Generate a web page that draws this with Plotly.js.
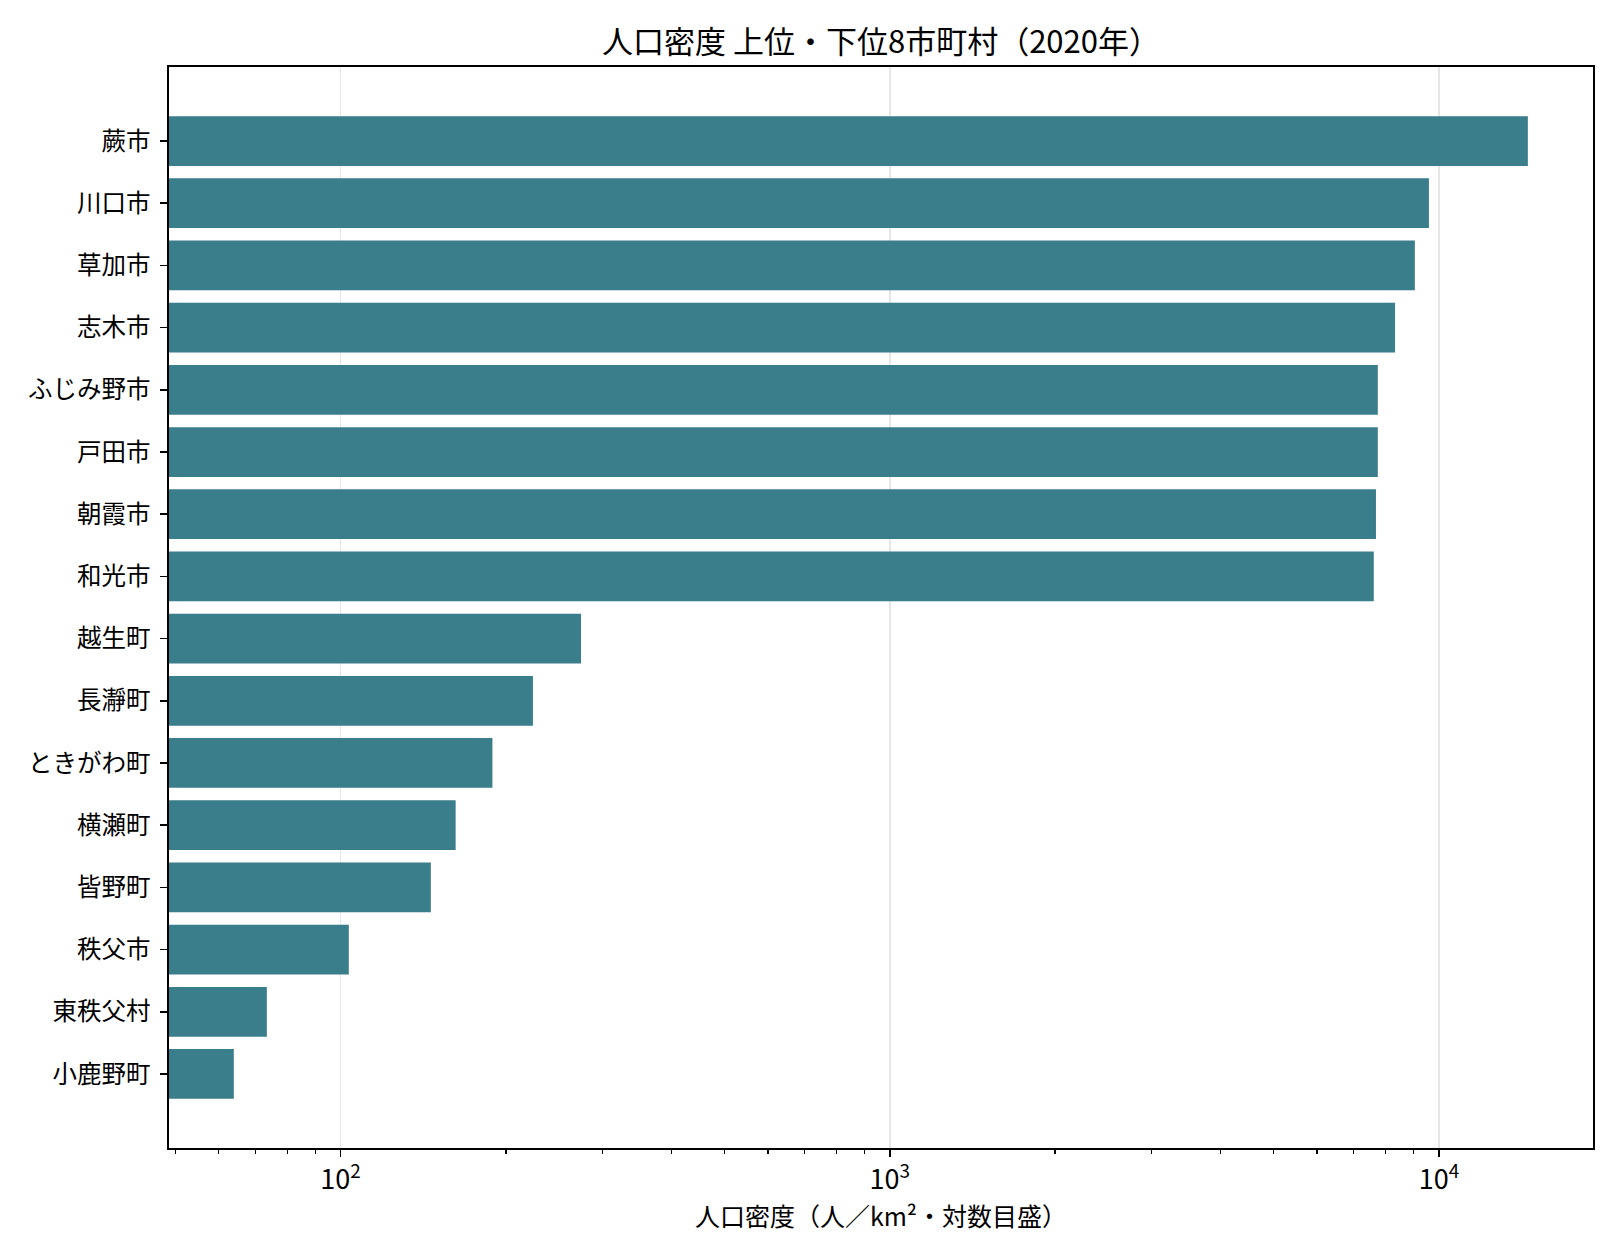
<!DOCTYPE html>
<html>
<head>
<meta charset="utf-8">
<script src="https://cdn.plot.ly/plotly-3.0.1.min.js"></script>
<style>
	body { margin: 0; background: #fff; }
	#plot { width: 1620px; height: 1260px; }
</style>
</head>
<body>
<div id="plot"></div>
<script>
// 人口密度（人/km²）上位8・下位8、上から順に
const municipalities = [
	"蕨市", "川口市", "草加市", "志木市", "ふじみ野市", "戸田市", "朝霞市", "和光市",
	"越生町", "長瀞町", "ときがわ町", "横瀬町", "皆野町", "秩父市", "東秩父村", "小鹿野町",
];
const density = [
	14520, 9590, 9040, 8320, 7740, 7740, 7680, 7610,
	274, 224, 189, 162, 146, 103.5, 73.4, 63.9,
];

const majorTicks = [100, 1000, 10000];
const majorLabels = ["10<sup>2</sup>", "10<sup>3</sup>", "10<sup>4</sup>"];
const minorTicks = [50, 60, 70, 80, 90, 200, 300, 400, 500, 600, 700, 800, 900,
	2000, 3000, 4000, 5000, 6000, 7000, 8000, 9000];

const FONT = "'Noto Sans CJK JP', 'Noto Sans', sans-serif";
const BAR_COLOR = "#3a7d8b";

const data = [{
	type: "bar",
	orientation: "h",
	y: municipalities,
	x: density,
	width: 0.8,
	marker: { color: BAR_COLOR, line: { width: 0 } },
	hoverinfo: "x+y",
}];

const layout = {
	width: 1620,
	height: 1260,
	margin: { l: 169, r: 27, t: 67, b: 112 },
	paper_bgcolor: "#fff",
	plot_bgcolor: "#fff",
	showlegend: false,
	font: { family: FONT, color: "#000", size: 24 },
	title: {
		text: "人口密度 上位・下位8市町村（2020年）",
		font: { family: FONT, size: 31, color: "#000" },
		x: 0.5,
		xref: "paper",
		xanchor: "center",
		y: 1 - 42 / 1260,
		yanchor: "middle",
	},
	xaxis: {
		type: "log",
		range: [Math.log10(48.7), Math.log10(19080)],
		tickmode: "array",
		tickvals: majorTicks,
		ticktext: majorLabels,
		ticks: "outside",
		ticklen: 7,
		tickwidth: 1.7,
		tickcolor: "#000",
		tickfont: { family: FONT, size: 27, color: "#000" },
		showgrid: true,
		gridcolor: "#e6e6e6",
		gridwidth: 1.5,
		showline: true,
		mirror: true,
		linecolor: "#000",
		linewidth: 1.7,
		zeroline: false,
		minor: {
			tickmode: "array",
			tickvals: minorTicks,
			ticks: "outside",
			ticklen: 4,
			tickwidth: 1.3,
			tickcolor: "#000",
			showgrid: false,
		},
		title: {
			text: "人口密度（人／km²・対数目盛）",
			font: { family: FONT, size: 25, color: "#000" },
			standoff: 6,
		},
	},
	yaxis: {
		type: "category",
		categoryorder: "array",
		categoryarray: municipalities,
		range: [municipalities.length - 1 + 0.4 + 0.79, -0.4 - 0.79],
		ticks: "outside",
		ticklen: 7,
		tickwidth: 1.7,
		tickcolor: "#000",
		ticklabelstandoff: 5,
		tickfont: { family: FONT, size: 24.5, color: "#000" },
		showgrid: false,
		showline: true,
		mirror: true,
		linecolor: "#000",
		linewidth: 1.7,
		zeroline: false,
	},
};

Plotly.newPlot("plot", data, layout, { displayModeBar: false, staticPlot: true });
</script>
</body>
</html>
